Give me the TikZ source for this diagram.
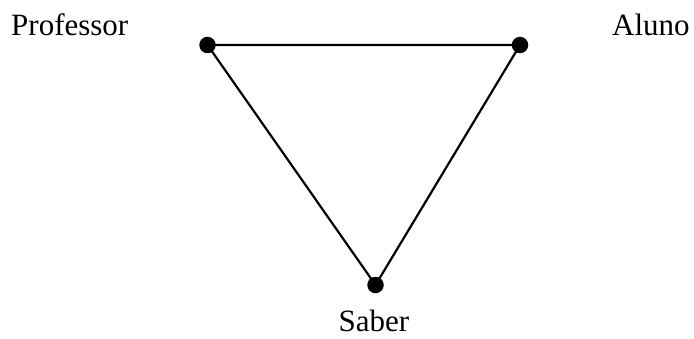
\documentclass[tikz,border=0pt]{standalone}
\usepackage{fontspec}
\setmainfont{Liberation Serif}
\usepackage{tikz}
\usetikzlibrary{positioning}
\tikzset{
  vertex/.style = {circle, fill=black, draw=none, minimum size=16.5pt, inner sep=0pt},
  lbl/.style    = {inner sep=0pt, font=\fontsize{31}{37}\selectfont},
  edge/.style   = {line width=2.2pt, draw=black}
}
\begin{document}
\begin{tikzpicture}[x=1pt, y=1pt]
  \useasboundingbox (0,0) rectangle (694,338);
  \node[vertex] (prof)  at (207.5,293) {};
  \node[vertex] (aluno) at (520,293)   {};
  \node[vertex] (saber) at (375.5,53)  {};
  \node[lbl, anchor=base west] (tprof)  at (11,302)   {Professor};
  \node[lbl, anchor=base west] (taluno) at (612,302)  {Aluno};
  \node[lbl, anchor=base]      (tsaber) at (374,7)    {Saber};
  \draw[edge] (prof.center) -- (aluno.center) -- (saber.center) -- cycle;
\end{tikzpicture}
\end{document}
